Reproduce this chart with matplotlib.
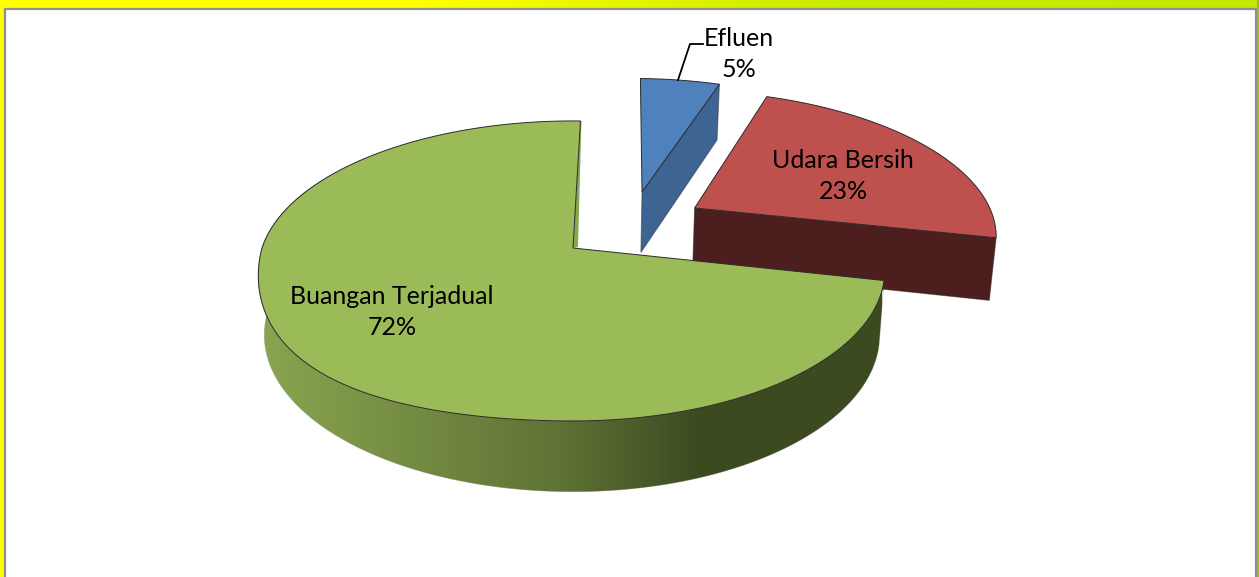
import numpy as np
import matplotlib
matplotlib.use("Agg")
import matplotlib.pyplot as plt
from matplotlib.colors import LinearSegmentedColormap
from matplotlib.patches import Polygon

# data
names = ["Efluen", "Udara Bersih", "Buangan Terjadual"]
shares = [5, 23, 72]

# style per slice, same order as the data
top_colors = ["#4f81bd", "#be504e", "#9bbb59"]
side_colors = ["#3e6493", "#4d1e1e", "#3c4a20"]
offsets = [(0.238, 0.406), (0.412, 0.285), (0.0, 0.0)]
label_pos = [(739, 54), (843, 176), (392, 312)]
start_angle = 1.6

plt.rcParams['font.family'] = ['Lato', 'DejaVu Sans']

W, H = 1259, 577
fig = plt.figure(figsize=(W / 100, H / 100), dpi=100)
ax = fig.add_axes([0, 0, 1, 1])


# circle plane to picture, with perspective (top face and bottom face)
def project(u, v, bottom=False):
    u = np.asarray(u, dtype=float)
    w = 1 + 0.153 * v
    if bottom:
        return 573 + np.where(u < 0, 305, 303) * u / w, 311 - 153 * v / w
    # front left of the top face sags a little in the original
    sag = 33 * np.minimum(u, 0) ** 2 * np.maximum(-v, 0)
    return 573 + np.where(u < 0, 311, 308) * u / w, 248 - 146.5 * v / w + sag


def arc(a0, a1, off, bottom=False):
    t = np.radians(np.linspace(a0, a1, 200))
    return project(off[0] + np.sin(t), off[1] + np.cos(t), bottom)


def h_gradient(stops, x0, x1, y0, y1, clip=None):
    cmap = LinearSegmentedColormap.from_list("g", stops)
    im = ax.imshow(np.linspace(0, 1, 256).reshape(1, -1), cmap=cmap, aspect="auto",
                   extent=[x0, x1, y1, y0], zorder=1, interpolation="bilinear")
    if clip is not None:
        im.set_clip_path(clip)
    return im


# frame
h_gradient(["#ffff00", "#ffff00", "#c8eb00", "#c4e800"], 0, W, 0, 8)
ax.add_patch(Polygon([(0, 0), (5, 0), (5, H), (0, H)], fc="#ffff00", ec="none", zorder=1))
ax.add_patch(Polygon([(W - 2, 0), (W, 0), (W, H), (W - 2, H)], fc="#9dbb1f", ec="none", zorder=1))
ax.plot([5, 5, W - 3, W - 3], [H, 8.5, 8.5, H], color="#8f8f8f", lw=1.6, zorder=2,
        solid_joinstyle="miter")

# slices
angles = np.array(shares) / sum(shares) * 360
edges = start_angle + np.concatenate([[0], np.cumsum(angles)])

for i in range(len(shares)):
    a0, a1 = edges[i], edges[i + 1]
    off = offsets[i]
    z = 3 + i * 2
    apex_top = project(off[0], off[1])
    apex_bot = project(off[0], off[1], True)
    xt, yt = arc(a0, a1, off)
    xb, yb = arc(a0, a1, off, True)

    if i < 2:
        # side seen along the closing radius
        ax.add_patch(Polygon([apex_top, (xt[-1], yt[-1]), (xb[-1], yb[-1]), apex_bot],
                             fc=side_colors[i], ec="#26262680", lw=0.7, zorder=z))
    else:
        # rim of the big slice, shaded left to right
        a_end = a0 + 195
        xrt, yrt = arc(a0, a_end, off)
        xrb, yrb = arc(a0, a_end, off, True)
        rim = Polygon(np.r_[np.c_[xrt, yrt], np.c_[xrb, yrb][::-1]], fc="none", ec="#26262650",
                      lw=0.6, zorder=z)
        ax.add_patch(rim)
        h_gradient([(0, "#8aa550"), (0.48, "#5f7335"), (0.71, "#3c4a20"), (1, "#3c4a20")],
                   258, 882, 250, 500, rim).set_zorder(z)
        # sliver of the inner wall beside the opening
        ax.add_patch(Polygon([apex_top, (xt[-1], yt[-1]), (xt[-1] + 1, yt[-1]),
                              (apex_top[0] + 5, apex_top[1] - 1)],
                             fc="#8ba650", ec="none", zorder=z))

    ax.add_patch(Polygon(np.r_[[apex_top], np.c_[xt, yt]], fc=top_colors[i], ec="#2a2a2a",
                         lw=0.7, zorder=z + 1))

# leader for the small slice
ax.plot([678, 690, 703], [80, 44, 44], color="black", lw=1.3, zorder=10)

for name, share, pos in zip(names, shares, label_pos):
    ax.text(pos[0], pos[1], f"{name}\n{share}%", ha="center", va="center", multialignment="center",
            fontsize=18, color="black", linespacing=1.41, zorder=11)

ax.set_xlim(0, W)
ax.set_ylim(H, 0)
ax.axis("off")
fig.savefig("out.png", dpi=100, facecolor="white")
